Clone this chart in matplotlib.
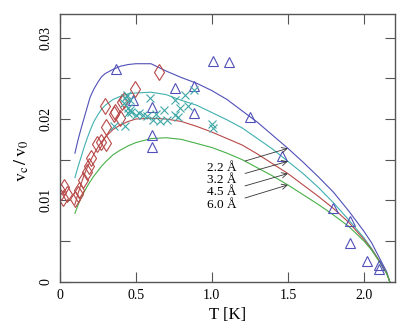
import matplotlib
matplotlib.use("Agg")
import matplotlib.pyplot as plt
import numpy as np

plt.rcParams['font.family'] = ['Liberation Serif', 'DejaVu Serif']
plt.rcParams['mathtext.fontset'] = 'stix'

# Theory curves
T_curve = [0.1, 0.12, 0.14, 0.16, 0.18, 0.2, 0.225, 0.25, 0.275, 0.3, 0.35, 0.4, 0.45, 0.5,
           0.6, 0.7, 0.8, 0.9, 1.0, 1.1, 1.2, 1.3, 1.4, 1.5, 1.6, 1.7, 1.8, 1.9, 2.0, 2.05,
           2.1, 2.15, 2.17]
v_22 = [0.0158, 0.0174, 0.0188, 0.0201, 0.0214, 0.0227, 0.0237, 0.0245, 0.0252, 0.0256,
        0.0261, 0.0265, 0.0267, 0.0268,
        0.0268, 0.0259, 0.0251, 0.0244, 0.0235, 0.0224, 0.0210, 0.0196, 0.0180, 0.0164,
        0.0147, 0.0129, 0.0110, 0.0087, 0.0062, 0.0048, 0.0030, 0.0012, 0.0]
v_32 = [0.0128, 0.0141, 0.0153, 0.0165, 0.0176, 0.0186, 0.0197, 0.0205, 0.0212, 0.0217,
        0.0224, 0.0228, 0.0231, 0.0232,
        0.0233, 0.0230, 0.0223, 0.0217, 0.0208, 0.0199, 0.0189, 0.0176, 0.0163, 0.0148,
        0.0133, 0.0116, 0.0097, 0.0076, 0.0054, 0.0041, 0.0026, 0.0010, 0.0]
v_45 = [0.0095, 0.0108, 0.0120, 0.0131, 0.0140, 0.0148, 0.0157, 0.0165, 0.0172, 0.0178,
        0.0187, 0.0193, 0.0197, 0.0200,
        0.0201, 0.0200, 0.0197, 0.0191, 0.0184, 0.0176, 0.0168, 0.0157, 0.0145, 0.0133,
        0.0119, 0.0105, 0.0090, 0.0073, 0.0052, 0.0040, 0.0026, 0.0010, 0.0]
v_60 = [0.0084, 0.0094, 0.0103, 0.0110, 0.0117, 0.0123, 0.0130, 0.0136, 0.0142, 0.0147,
        0.0156, 0.0162, 0.0167, 0.0171,
        0.0176, 0.0177, 0.0175, 0.0170, 0.0165, 0.0158, 0.0150, 0.0140, 0.0130, 0.0119,
        0.0107, 0.0095, 0.0082, 0.0068, 0.0050, 0.0039, 0.0025, 0.0010, 0.0]
curve_labels = ["2.2 Å", "3.2 Å", "4.5 Å", "6.0 Å"]

# Triangles
T_tri = [0.37, 0.48, 0.605, 0.605, 0.605, 0.758, 0.88, 0.88, 1.01, 1.11, 1.25, 1.46,
         1.80, 1.91, 1.91, 2.02, 2.10, 2.10]
v_tri = [0.0261, 0.0224, 0.0215, 0.0180, 0.0166, 0.0238, 0.0241, 0.0207, 0.0271, 0.0270,
         0.0202, 0.0155, 0.0091, 0.0075, 0.0048, 0.0025, 0.0021, 0.0016]

# Diamonds
T_dia = [0.01, 0.03, 0.05, 0.02, 0.10, 0.12, 0.13, 0.155, 0.178, 0.193, 0.206, 0.247,
         0.27, 0.305, 0.305, 0.30, 0.36, 0.365, 0.397, 0.41, 0.42, 0.495, 0.655]
v_dia = [0.0110, 0.0117, 0.0108, 0.0103, 0.0102, 0.0108, 0.0113, 0.0125, 0.0135, 0.0142,
         0.0152, 0.0169, 0.0172, 0.0170, 0.0190, 0.0216, 0.0206, 0.0209, 0.0201, 0.0221,
         0.0223, 0.0237, 0.0258]

# Crosses
T_x = [0.36, 0.43, 0.44, 0.43, 0.465, 0.45, 0.46, 0.447, 0.47, 0.50, 0.52, 0.55, 0.575,
       0.595, 0.615, 0.63, 0.66, 0.685, 0.705, 0.76, 0.76, 0.775, 0.79, 0.825, 0.845, 0.88,
       1.0, 1.01, 0.42]
v_x = [0.0192, 0.0192, 0.0230, 0.0226, 0.0223, 0.0214, 0.0211, 0.0208, 0.0209, 0.0205,
       0.0207, 0.0205, 0.0204, 0.0226, 0.0199, 0.0206, 0.0197, 0.0211, 0.0199, 0.0224,
       0.0205, 0.0202, 0.0214, 0.0230, 0.0216, 0.0236, 0.0194, 0.0189, 0.0220]

c_blue = '#5050b8'
c_cyan = '#40b0b0'
c_red = '#b84848'
c_green = '#48b048'

fig = plt.figure(figsize=(4.09, 3.36), dpi=100)
ax = fig.add_axes([0.146, 0.1616, 0.82, 0.7964])

curves = [(v_22, c_blue), (v_32, c_cyan), (v_45, c_red), (v_60, c_green)]
for v, c in curves:
    ax.plot(T_curve, v, color=c, lw=0.8)

ax.plot(T_tri, v_tri, ls='none', marker='^', ms=6.5, mfc='none', mec=c_blue, mew=0.8)
ax.plot(T_dia, v_dia, ls='none', marker='d', ms=8, mfc='none', mec=c_red, mew=0.8)
ax.plot(T_x, v_x, ls='none', marker='x', ms=5.5, color='#40a8a8', mew=0.8)

idx = T_curve.index(1.5)
text_y = [0.0140, 0.01251, 0.01097, 0.00943]
for (v, c), lab, ty in zip(curves, curve_labels, text_y):
    ax.annotate(lab, xy=(1.5, v[idx]), xytext=(1.165, ty), ha='right', va='center',
                fontsize=9.5,
                arrowprops=dict(arrowstyle='->', color='#333333', lw=0.6,
                                shrinkA=4, shrinkB=0))

ax.set_xlim(0, 2.205)
ax.set_ylim(0, 0.0329)
ax.set_xticks([0, 0.5, 1.0, 1.5, 2.0])
ax.set_xticklabels(['0', '0.5', '1.0', '1.5', '2.0'], fontsize=10)
yt = [0, 0.005, 0.01, 0.015, 0.02, 0.025, 0.03]
ax.set_yticks(yt)
ax.set_yticklabels(['0', '', '0.01', '', '0.02', '', '0.03'], fontsize=10,
                   rotation=90, va='center')
ax.tick_params(direction='in', length=7, width=0.8, color='#555555', top=True, right=True,
               pad=5)
for s in ax.spines.values():
    s.set_color('#555555')
    s.set_linewidth(1.0)

ax.set_xlabel('T [K]', fontsize=12)
ax.set_ylabel(r'$\mathrm{v}_\mathrm{c}\,/\,\mathrm{v}_0$', fontsize=13)
ax.yaxis.set_label_coords(-0.085, 0.45)

fig.savefig('out.png', dpi=100)
